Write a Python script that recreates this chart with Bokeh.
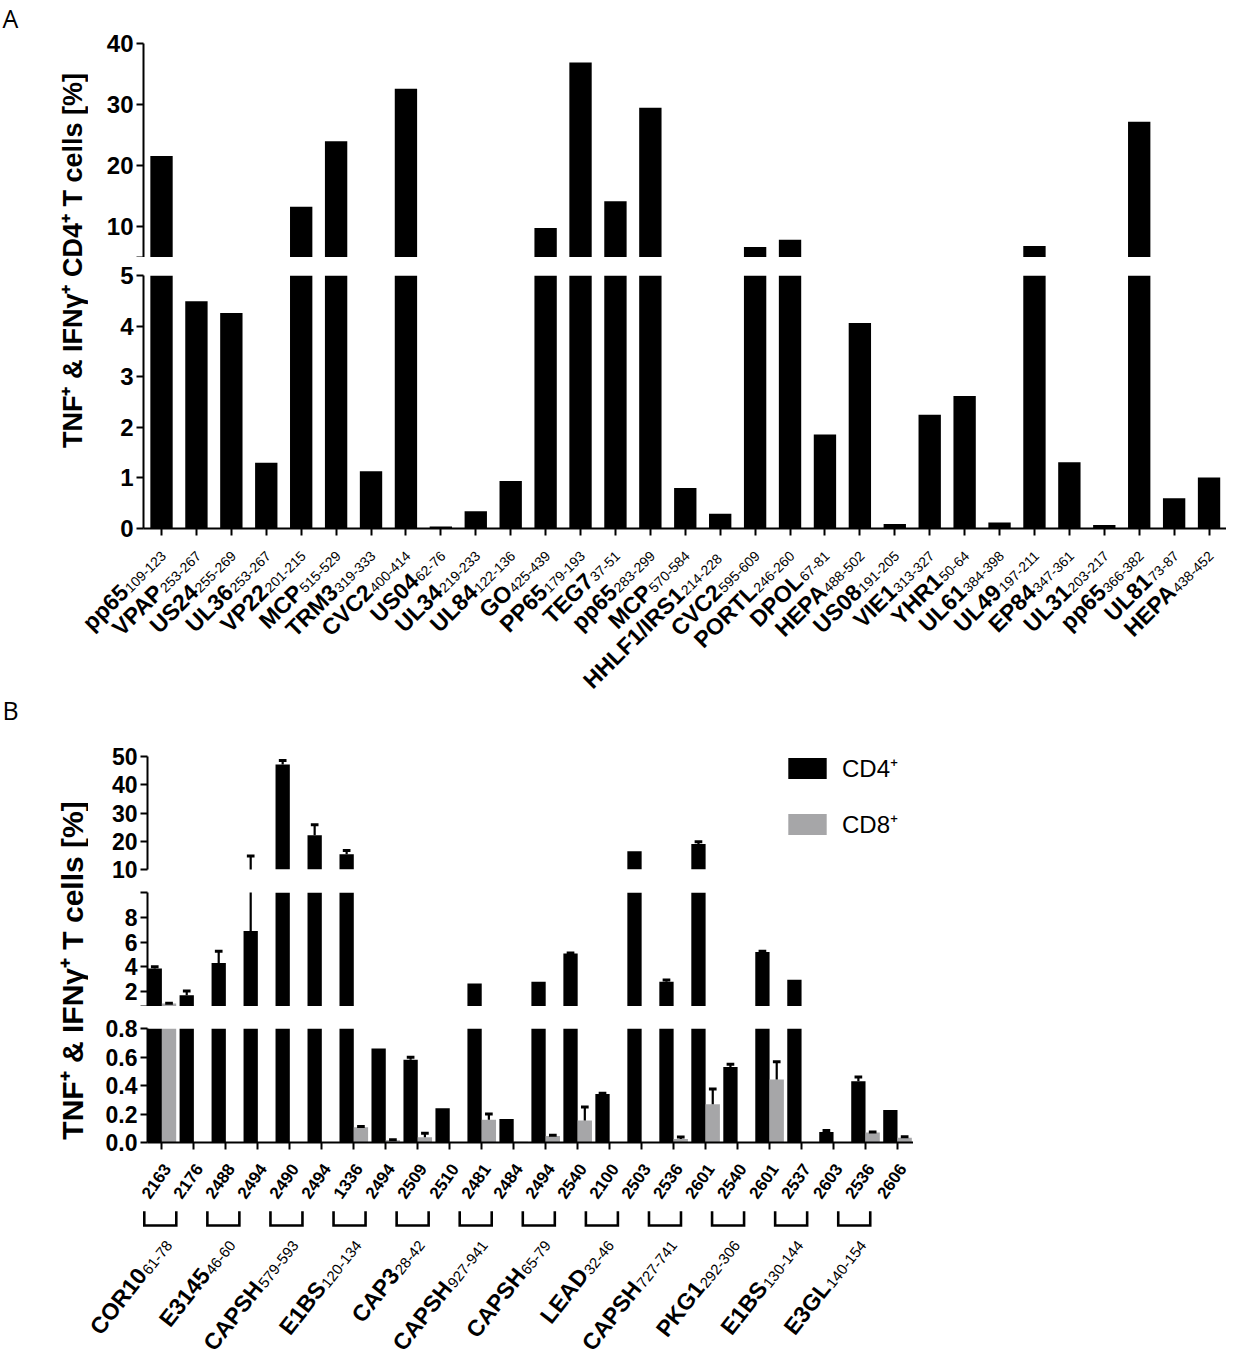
import math
from bokeh.plotting import figure
from bokeh.models import (Range1d, FixedTicker, Label, ColumnDataSource,
                          Legend, LegendItem, NumeralTickFormatter)
from bokeh.layouts import column, row
from bokeh.core.properties import value
from bokeh.transform import dodge
from bokeh.embed import file_html
from bokeh.resources import INLINE

FONT = "Liberation Sans"

# ---------------- Panel A data ----------------
A_names = ["pp65", "VPAP", "US24", "UL36", "VP22", "MCP", "TRM3", "CVC2", "US04", "UL34",
           "UL84", "GO", "PP65", "TEG7", "pp65", "MCP", "HHLF1/IRS1", "CVC2", "PORTL", "DPOL",
           "HEPA", "US08", "VIE1", "YHR1", "UL61", "UL49", "EP84", "UL31", "pp65", "UL81", "HEPA"]
A_ranges = ["109-123", "253-267", "255-269", "253-267", "201-215", "515-529", "319-333",
            "400-414", "62-76", "219-233", "122-136", "425-439", "179-193", "37-51", "283-299",
            "570-584", " 214-228", "595-609", "246-260", "67-81", "488-502", "191-205",
            "313-327", "50-64", "384-398", "197-211", "347-361", "203-217", "366-382",
            "73-87", "438-452"]
A_values = [21.6, 4.49, 4.26, 1.30, 13.3, 24.0, 1.13, 32.6, 0.04, 0.34, 0.94, 9.84, 36.9,
            14.2, 29.5, 0.80, 0.29, 6.7, 7.9, 1.86, 4.06, 0.09, 2.25, 2.62, 0.12, 6.9, 1.31,
            0.07, 27.2, 0.60, 1.01]
A_upper_ticks = [5, 10, 20, 30, 40]
A_lower_ticks = [0, 1, 2, 3, 4, 5]

# ---------------- Panel B data ----------------
B_ids = ["2163", "2176", "2488", "2494", "2490", "2494", "1336", "2494", "2509", "2510",
         "2481", "2484", "2494", "2540", "2100", "2503", "2536", "2601", "2540", "2601",
         "2537", "2603", "2536", "2606"]
B_cd4 = [3.87, 1.71, 4.32, 6.9, 47.2, 22.1, 15.4, 0.66, 0.58, 0.24, 2.65, 0.165, 2.8, 5.07,
         0.34, 16.5, 2.8, 19.0, 0.53, 5.2, 2.96, 0.073, 0.43, 0.228]
B_cd4_err = [0.13, 0.35, 0.94, 7.9, 1.4, 3.7, 1.3, 0.0, 0.018, 0.0, 0.0, 0.0, 0.0, 0.05,
             0.005, 0.0, 0.13, 0.85, 0.02, 0.05, 0.0, 0.012, 0.03, 0.0]
B_cd8 = [1.04, 0, 0, 0, 0, 0, 0.107, 0.016, 0.037, 0, 0.16, 0.005, 0.045, 0.155, 0, 0,
         0.024, 0.268, 0, 0.442, 0, 0, 0.07, 0.033]
B_cd8_err = [0.03, 0, 0, 0, 0, 0, 0.005, 0.004, 0.028, 0, 0.04, 0, 0.006, 0.095, 0, 0,
             0.014, 0.108, 0, 0.125, 0, 0, 0.004, 0.007]
B_group_names = ["COR10", "E3145", "CAPSH", "E1BS", "CAP3", "CAPSH", "CAPSH", "LEAD",
                 "CAPSH", "PKG1", "E1BS", "E3GL"]
B_group_ranges = ["61-78", "46-60", "579-593", "120-134", "28-42", "927-941", "65-79",
                  "32-46", "727-741", "292-306", "130-144", "140-154"]
B_top_ticks = [10, 20, 30, 40, 50]
B_mid_ticks = [0.8, 2, 4, 6, 8, 10]
B_bot_ticks = [0, 0.2, 0.4, 0.6, 0.8]

BLACK = "#000000"
GREY = "#a6a6a8"

REG_W = {**{d: 0.556 for d in "0123456789"}, "-": 0.333, " ": 0.278}


def text_w(s, size):
    return sum(REG_W.get(c, 0.556) for c in s) * size


def mkfig(w, h, xr, yr, left=0, top=0, bottom=0, right=0, xaxis=True, yaxis=True):
    p = figure(width=w, height=h, x_range=xr, y_range=yr, toolbar_location=None,
               output_backend="svg", min_border_left=left, min_border_right=right,
               min_border_top=top, min_border_bottom=bottom,
               x_axis_location="below" if xaxis else None,
               y_axis_location="left" if yaxis else None)
    p.xgrid.visible = False
    p.ygrid.visible = False
    p.outline_line_color = None
    return p


def style_axis(ax, size):
    ax.axis_line_width = 2
    ax.axis_line_color = "black"
    ax.major_tick_line_width = 2
    ax.major_tick_line_color = "black"
    ax.major_tick_out = 7
    ax.major_tick_in = 0
    ax.minor_tick_line_color = None
    ax.major_label_text_font = FONT
    ax.major_label_text_font_style = "bold"
    ax.major_label_text_font_size = f"{size}px"
    ax.major_label_text_color = "black"
    ax.major_label_standoff = 3


def rot_labels(p, xs, ys, texts, ang_deg, size, bold):
    p.text(x="x", y="y", text="text",
           source=ColumnDataSource(dict(x=xs, y=ys, text=texts)),
           angle=ang_deg, angle_units="deg", text_align="right", text_baseline="alphabetic",
           text_font=value(FONT), text_font_style="bold" if bold else "normal",
           text_font_size=f"{size}px", text_color="black")


def bars(p, xs, vals, base, color, width, xoff=None, xr=None):
    """bars of one broken-axis segment: each bar starts at the segment's floor"""
    src = ColumnDataSource(dict(x=xs, v=[max(v, base) for v in vals]))
    xspec = "x" if xoff is None else dodge("x", xoff, range=xr)
    return p.vbar(x=xspec, top="v", bottom=base, width=width, source=src,
                  fill_color=color, line_color=None)


# ---------------- Panel A ----------------
TITLE_W = 88
A_W, A_LEFT = 1138, 55
A_UP_H, A_UP_TOP = 257, 43
A_LOW_H, A_LOW_TOP, A_LOW_BOT = 284, 18, 13
A_LAB_W, A_LAB_H = TITLE_W + A_W, 151

A_idx = list(range(len(A_names)))
xrA = Range1d(-0.516, 30.5)
ppuA = (A_W - A_LEFT) / (xrA.end - xrA.start)

pA_up = mkfig(A_W, A_UP_H, xrA, Range1d(5, 40), A_LEFT, A_UP_TOP, 0, xaxis=False)
bars(pA_up, A_idx, A_values, 5, BLACK, 0.64)
style_axis(pA_up.yaxis[0], 24)
pA_up.yaxis.ticker = FixedTicker(ticks=A_upper_ticks)
pA_up.yaxis.major_label_overrides = {5: ""}

pA_low = mkfig(A_W, A_LOW_H, xrA, Range1d(0, 5), A_LEFT, A_LOW_TOP, A_LOW_BOT)
bars(pA_low, A_idx, A_values, 0, BLACK, 0.64)
style_axis(pA_low.yaxis[0], 24)
pA_low.yaxis.ticker = FixedTicker(ticks=A_lower_ticks)
style_axis(pA_low.xaxis[0], 1)
pA_low.xaxis.ticker = FixedTicker(ticks=A_idx)
pA_low.xaxis.major_label_overrides = {i: "" for i in A_idx}

# label strip under panel A: x shares the bar scale, y counts pixels below the baseline
pA_lab = mkfig(A_LAB_W, A_LAB_H,
               Range1d(xrA.start - (TITLE_W + A_LEFT) / ppuA, xrA.end),
               Range1d(-(A_LOW_BOT + A_LAB_H), -A_LOW_BOT), xaxis=False, yaxis=False)
angA = math.radians(45)
caA, saA = math.cos(angA), math.sin(angA)
A_SUB, A_NAME, A_DROP = 14, 23, 3
sub_xo, sub_yo = 2, -25
rot_labels(pA_lab, [i + sub_xo / ppuA for i in A_idx], [sub_yo] * len(A_idx), A_ranges, 45, A_SUB, False)
nx = [i + (sub_xo - caA * (text_w(r, A_SUB) + 1) - saA * A_DROP) / ppuA for i, r in zip(A_idx, A_ranges)]
ny = [sub_yo - saA * (text_w(r, A_SUB) + 1) + caA * A_DROP for r in A_ranges]
rot_labels(pA_lab, nx, ny, A_names, 45, A_NAME, True)

# title column A
tA_H = A_UP_H + A_LOW_H
tA = mkfig(TITLE_W, tA_H, Range1d(0, TITLE_W), Range1d(0, tA_H), xaxis=False, yaxis=False)
tA.add_layout(Label(x=2, y=tA_H, text="A", text_align="left", text_baseline="top",
                    text_font="Open Sans", text_font_size="25px", text_color="black"))
tA.add_layout(Label(x=72, y=tA_H - 260, text="TNF⁺ & IFNγ⁺ CD4⁺ T cells [%]", angle=90,
                    angle_units="deg", text_align="center", text_baseline="middle",
                    text_font=FONT, text_font_style="bold", text_font_size="27px",
                    text_color="black"))

# ---------------- Panel B ----------------
B_W, B_LEFT = 825, 59
B_TOP_H, B_TOP_TOP, B_TOP_BOT = 190, 64, 13
B_MID_H, B_MID_TOP = 124, 10
B_BOT_H, B_BOT_TOP, B_BOT_BOT = 149, 22, 13
B_LAB_W, B_LAB_H = TITLE_W + B_W, 202

B_idx = list(range(len(B_ids)))
xrB = Range1d(-0.45, 23.5)
ppuB = (B_W - B_LEFT) / (xrB.end - xrB.start)
BW = 0.447
OFF4, OFF8 = -BW / 2, BW / 2
CAP = 0.12


def err_src(vals, errs):
    keep = [i for i in B_idx if errs[i] > 0]
    return ColumnDataSource(dict(x=[B_idx[i] for i in keep], lo=[vals[i] for i in keep],
                                 hi=[vals[i] + errs[i] for i in keep]))


err4 = err_src(B_cd4, B_cd4_err)
err8 = err_src(B_cd8, B_cd8_err)


def draw_B(p, base):
    r4 = bars(p, B_idx, B_cd4, base, BLACK, BW, OFF4, xrB)
    r8 = bars(p, B_idx, B_cd8, base, GREY, BW, OFF8, xrB)
    for src, off in ((err4, OFF4), (err8, OFF8)):
        p.segment(x0=dodge("x", off, range=xrB), y0="lo", x1=dodge("x", off, range=xrB), y1="hi",
                  source=src, line_color="black", line_width=2.2)
        p.segment(x0=dodge("x", off - CAP, range=xrB), y0="hi", x1=dodge("x", off + CAP, range=xrB),
                  y1="hi", source=src, line_color="black", line_width=3)
    return r4, r8


pB_top = mkfig(B_W, B_TOP_H, xrB, Range1d(10, 50), B_LEFT, B_TOP_TOP, B_TOP_BOT, xaxis=False)
r4t, r8t = draw_B(pB_top, 10)
style_axis(pB_top.yaxis[0], 23)
pB_top.yaxis.ticker = FixedTicker(ticks=B_top_ticks)

legend = Legend(items=[LegendItem(label="CD4⁺", renderers=[r4t]),
                       LegendItem(label="CD8⁺", renderers=[r8t])],
                location=(636, 29), orientation="vertical", glyph_width=48, glyph_height=26,
                label_standoff=11, spacing=23, padding=0, margin=0, border_line_color=None,
                background_fill_alpha=0, label_text_font=FONT, label_text_font_size="24px",
                label_text_color="black")
pB_top.add_layout(legend)

pB_mid = mkfig(B_W, B_MID_H, xrB, Range1d(0.8, 10), B_LEFT, B_MID_TOP, 0, xaxis=False)
draw_B(pB_mid, 0.8)
style_axis(pB_mid.yaxis[0], 23)
pB_mid.yaxis.ticker = FixedTicker(ticks=B_mid_ticks)
pB_mid.yaxis.major_label_overrides = {0.8: "", 10: ""}

pB_bot = mkfig(B_W, B_BOT_H, xrB, Range1d(0, 0.8), B_LEFT, B_BOT_TOP, B_BOT_BOT)
draw_B(pB_bot, 0)
style_axis(pB_bot.yaxis[0], 23)
pB_bot.yaxis.ticker = FixedTicker(ticks=B_bot_ticks)
pB_bot.yaxis.formatter = NumeralTickFormatter(format="0.0")
style_axis(pB_bot.xaxis[0], 1)
pB_bot.xaxis.ticker = FixedTicker(ticks=B_idx)
pB_bot.xaxis.major_label_overrides = {i: "" for i in B_idx}

# label strip under panel B (pixels below the baseline)
pB_lab = mkfig(B_LAB_W, B_LAB_H,
               Range1d(xrB.start - (TITLE_W + B_LEFT) / ppuB, xrB.end),
               Range1d(-(B_BOT_BOT + B_LAB_H), -B_BOT_BOT), xaxis=False, yaxis=False)
rot_labels(pB_lab, [i + 5 / ppuB for i in B_idx], [-23] * len(B_idx), B_ids, 55, 17, True)

G = list(range(len(B_group_names)))
gx = [2 * g + 0.5 for g in G]
g_off = [-17.6 - 0.88 * g for g in G]          # bracket centre offset from pair centre, px
yt, yb = -68.7, -83.0
pB_lab.multi_line(xs=[[gx[g] + (g_off[g] - 16) / ppuB, gx[g] + (g_off[g] - 16) / ppuB,
                       gx[g] + (g_off[g] + 16) / ppuB, gx[g] + (g_off[g] + 16) / ppuB] for g in G],
                  ys=[[yt, yb, yb, yt] for g in G], line_color="black", line_width=2.6,
                  line_join="miter")

angB = math.radians(52)
caB, saB = math.cos(angB), math.sin(angB)
B_SUB, B_NAME, B_DROP = 15, 23, 4
gsx = [gx[g] + (g_off[g] + 9) / ppuB for g in G]
gsy = [-100] * len(G)
rot_labels(pB_lab, gsx, gsy, B_group_ranges, 52, B_SUB, False)
gnx = [gsx[g] + (-caB * (text_w(B_group_ranges[g], B_SUB) + 1) - saB * B_DROP) / ppuB for g in G]
gny = [gsy[g] - saB * (text_w(B_group_ranges[g], B_SUB) + 1) + caB * B_DROP for g in G]
rot_labels(pB_lab, gnx, gny, B_group_names, 52, B_NAME, True)

tB_H = B_TOP_H + B_MID_H + B_BOT_H
tB = mkfig(TITLE_W, tB_H, Range1d(0, TITLE_W), Range1d(0, tB_H), xaxis=False, yaxis=False)
tB.add_layout(Label(x=2, y=tB_H, text="B", text_align="left", text_baseline="top",
                    text_font="Open Sans", text_font_size="25px", text_color="black"))
tB.add_layout(Label(x=72, y=tB_H - (970 - 692), text="TNF⁺ & IFNγ⁺ T cells [%]", angle=90,
                    angle_units="deg", text_align="center", text_baseline="middle",
                    text_font=FONT, text_font_style="bold", text_font_size="30px",
                    text_color="black"))

layout = column(row(tA, column(pA_up, pA_low)), pA_lab,
                row(tB, column(pB_top, pB_mid, pB_bot)), pB_lab)

open("out.html", "w").write(file_html(layout, INLINE))
